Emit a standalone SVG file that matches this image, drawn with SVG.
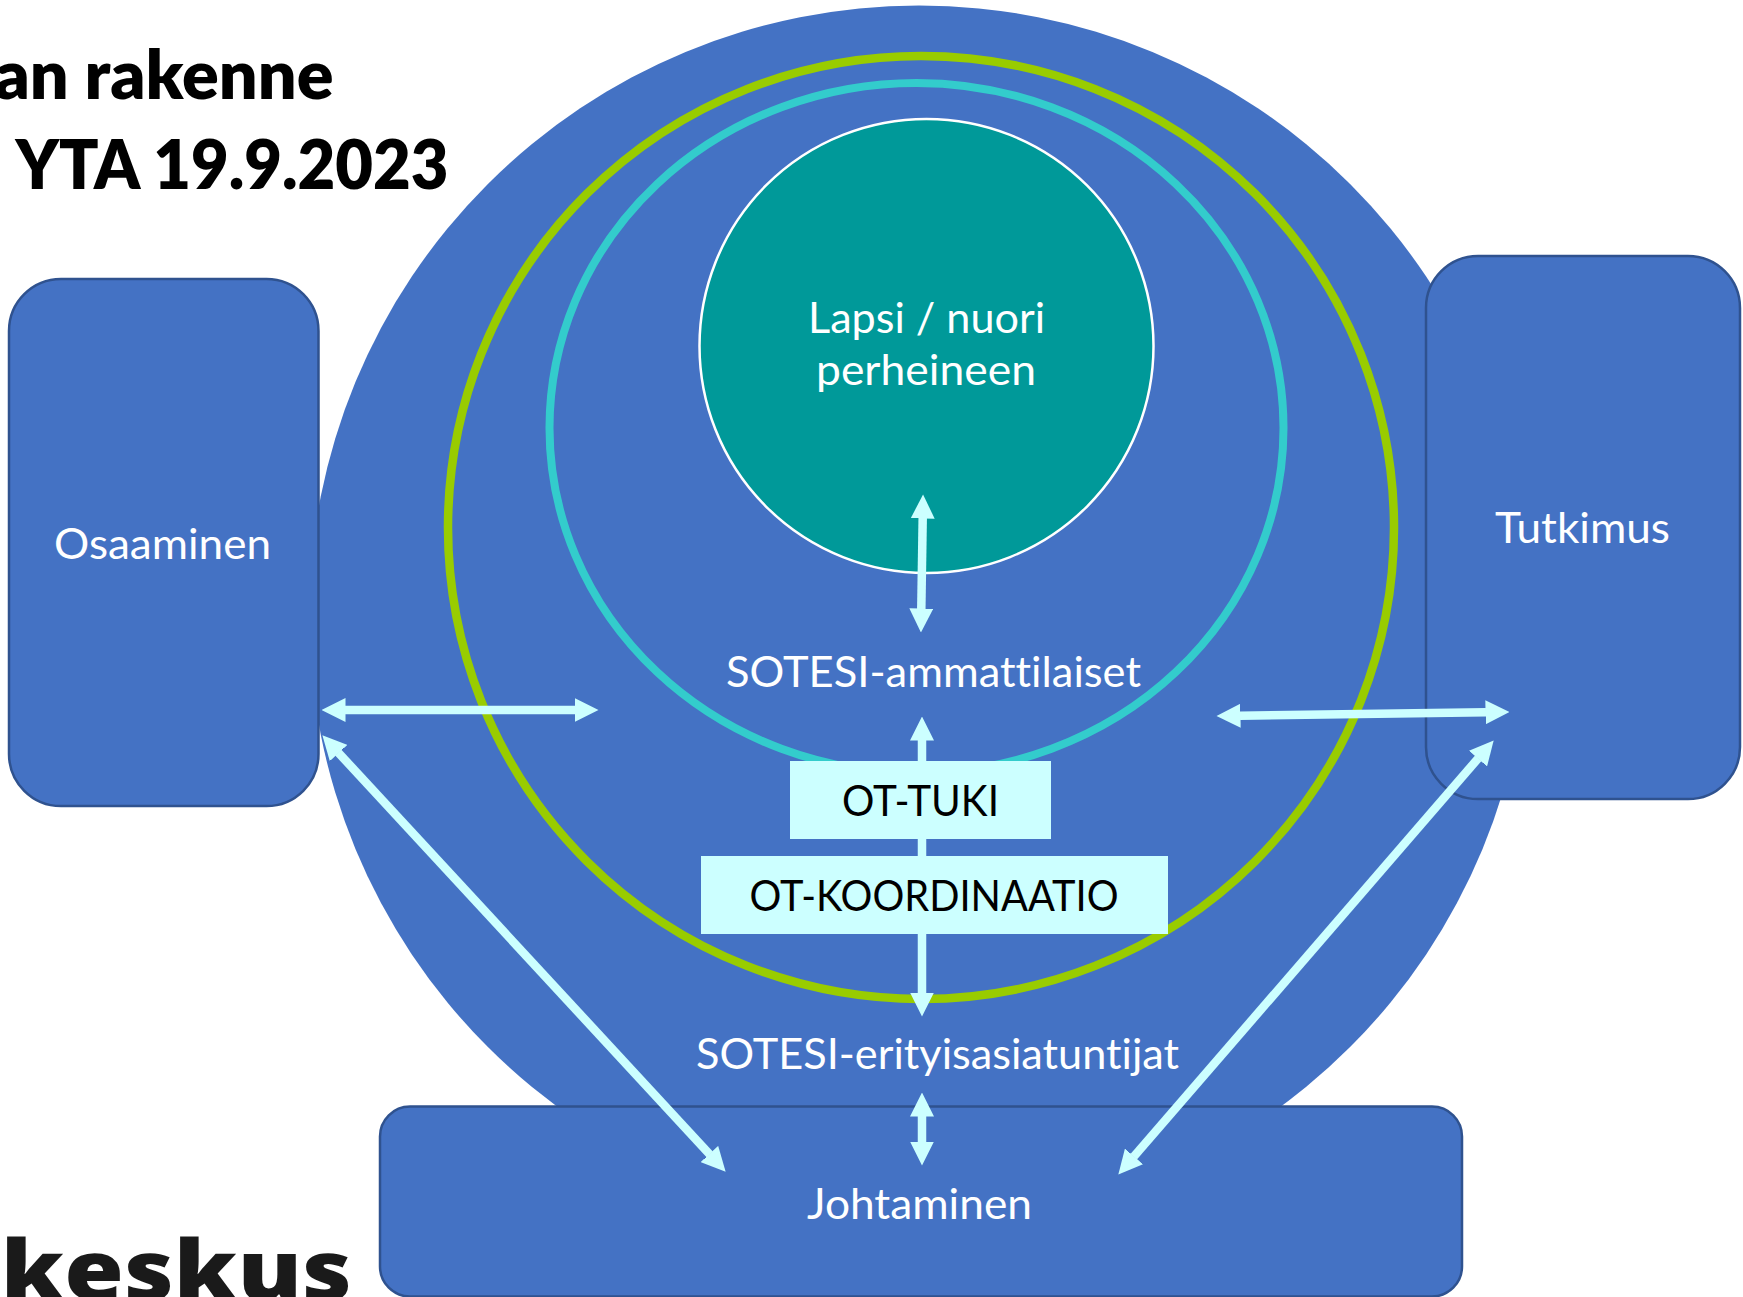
<svg xmlns="http://www.w3.org/2000/svg" width="1743" height="1297" viewBox="0 0 1743 1297">
<style>
text{font-family:"Lato","Open Sans","Liberation Sans",sans-serif;font-variant-ligatures:none}
.lbl{font-size:42px;fill:#fff;text-anchor:middle}
.dark{font-size:42px;fill:#000;text-anchor:middle}
.title{font-size:68px;font-weight:800;fill:#000}
.box{fill:#4472C4;stroke:#2F528F;stroke-width:2.5}
.ot{fill:#CCFFFF}
.conn{stroke:#CCFFFF;stroke-width:8.5;fill:none;marker-start:url(#head);marker-end:url(#head)}
</style>
<defs>
<marker id="head" markerUnits="userSpaceOnUse" markerWidth="24" markerHeight="24" viewBox="0 0 24 24" refX="0.5" refY="12" orient="auto-start-reverse"><path d="M0 0L24 12L0 24Z" fill="#CCFFFF"/></marker>
</defs>
<rect width="1743" height="1297" fill="#fff"/>
<g id="title">
<text class="title" x="-5.500" y="98.500" textLength="339" lengthAdjust="spacingAndGlyphs">an rakenne</text>
<text class="title" x="15.500" y="188.500" textLength="433" lengthAdjust="spacingAndGlyphs">YTA 19.9.2023</text>
</g>
<text id="logo" x="-30" y="1300" font-size="84" font-weight="800" fill="#1a1a1a" textLength="382" lengthAdjust="spacingAndGlyphs" style="font-family:'Open Sans','Liberation Sans',sans-serif">-keskus</text>
<g id="outer-circle"><circle cx="919" cy="615.5" r="610" fill="#4472C4"/></g>
<g id="green-ring"><ellipse cx="921" cy="527.5" rx="473" ry="471.5" fill="none" stroke="#99CC00" stroke-width="8.500"/></g>
<g id="teal-ring"><ellipse cx="916.5" cy="428" rx="367" ry="345" fill="none" stroke="#33CCCC" stroke-width="8"/></g>
<g id="lapsi"><circle cx="926.500" cy="346" r="227" fill="#009999" stroke="#fff" stroke-width="2.5"/>
<text class="lbl" x="926.5" y="333" textLength="237" lengthAdjust="spacingAndGlyphs">Lapsi / nuori</text><text class="lbl" x="926" y="385" textLength="220" lengthAdjust="spacingAndGlyphs">perheineen</text></g>
<g id="osaaminen"><rect class="box" x="9" y="279" width="309.500" height="527" rx="52"/><text class="lbl" x="162.500" y="559" textLength="217" lengthAdjust="spacingAndGlyphs">Osaaminen</text></g>
<g id="tutkimus"><rect class="box" x="1426" y="256" width="314" height="543" rx="52"/><text class="lbl" x="1582.500" y="543" textLength="175" lengthAdjust="spacingAndGlyphs">Tutkimus</text></g>
<g id="johtaminen"><rect class="box" x="380" y="1106.500" width="1082" height="190" rx="30"/><text class="lbl" x="919.500" y="1219" textLength="225" lengthAdjust="spacingAndGlyphs">Johtaminen</text></g>
<g id="sotesi-ammattilaiset"><text class="lbl" x="933.500" y="687" textLength="415" lengthAdjust="spacingAndGlyphs">SOTESI-ammattilaiset</text></g>
<g id="sotesi-erityisasiantuntijat"><text class="lbl" x="937.500" y="1069" textLength="483" lengthAdjust="spacingAndGlyphs">SOTESI-erityisasiatuntijat</text></g>
<g id="connectors">
<line class="conn" x1="345" y1="710" x2="575" y2="710"/>
<line class="conn" x1="1240" y1="715.700" x2="1486" y2="712.300"/>
<line class="conn" x1="922.700" y1="518" x2="921.300" y2="609"/>
<line class="conn" x1="922" y1="740" x2="922" y2="993"/>
<line class="conn" x1="922" y1="1116" x2="922" y2="1142"/>
<line class="conn" x1="338.300" y1="752.600" x2="709.700" y2="1154.400"/>
<line class="conn" x1="1478.300" y1="758.200" x2="1133.700" y2="1156.800"/>
</g>
<g id="ot-tuki"><rect class="ot" x="790" y="761" width="261" height="78"/><text class="dark" x="920.500" y="816" textLength="157" lengthAdjust="spacingAndGlyphs">OT-TUKI</text></g>
<g id="ot-koordinaatio"><rect class="ot" x="701" y="856" width="467" height="78"/><text class="dark" x="934" y="911" textLength="369" lengthAdjust="spacingAndGlyphs">OT-KOORDINAATIO</text></g>
</svg>
